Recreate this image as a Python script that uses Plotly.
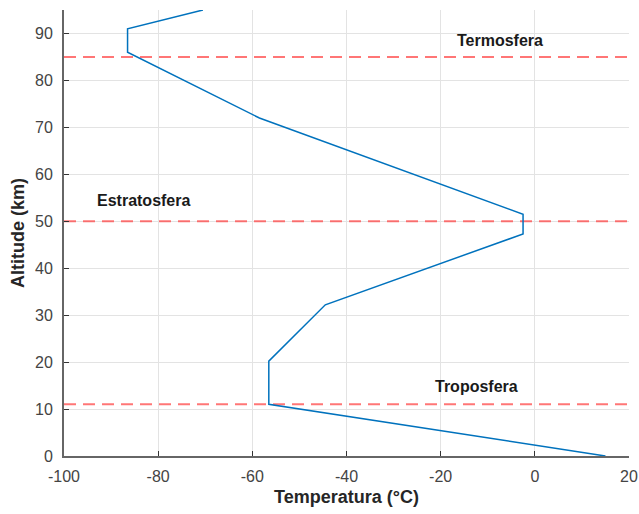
import plotly.graph_objects as go

temperature = [15, -56.5, -56.5, -44.5, -2.5, -2.5, -58.5, -86.5, -86.5, -70.5]
altitude = [0, 11, 20.2, 32.2, 47.3, 51.5, 72, 86, 91, 95]

boundaries = [11, 50, 85]
layer_names = ["Troposfera", "Estratosfera", "Termosfera"]
label_x = [-12.3, -83.2, -7.4]
label_y = [14.9, 54.5, 88.4]

x_ticks = [-100, -80, -60, -40, -20, 0, 20]
x_tick_labels = ["-100", "-80", "-60", "-40", "-20", "0", "20"]
y_ticks = [0, 10, 20, 30, 40, 50, 60, 70, 80, 90]
y_tick_labels = [str(v) for v in y_ticks]

FONT = "Liberation Sans, Arial"

fig = go.Figure()

for b in boundaries:
    fig.add_trace(go.Scatter(
        x=[-100, 20], y=[b, b], mode="lines",
        line=dict(color="rgba(255,60,60,0.7)", width=2, dash="12px,7px"),
        showlegend=False, hoverinfo="skip"))

fig.add_trace(go.Scatter(
    x=temperature, y=altitude, mode="lines",
    line=dict(color="#0072BD", width=1.5),
    showlegend=False))

for name, lx, ly in zip(layer_names, label_x, label_y):
    fig.add_annotation(x=lx, y=ly, xref="x", yref="y", text="<b>" + name + "</b>",
                       showarrow=False, font=dict(family=FONT, size=16, color="#1a1a1a"))

axis_common = dict(
    showgrid=True, gridcolor="#e3e3e3", gridwidth=1,
    showline=True, linecolor="#666666", linewidth=2,
    ticks="inside", ticklen=5, tickcolor="#333333",
    tickfont=dict(family=FONT, size=16, color="#444444"),
    zeroline=False, mirror=False, automargin=False,
)

fig.update_xaxes(range=[-100, 20], tickvals=x_ticks, ticktext=x_tick_labels,
                 ticklabelstandoff=5,
                 title=dict(text="<b>Temperatura (°C)</b>", font=dict(family=FONT, size=18, color="#262626"), standoff=6),
                 **axis_common)
fig.update_yaxes(range=[0, 95], tickvals=y_ticks, ticktext=y_tick_labels,
                 ticklabelstandoff=6,
                 title=dict(text="<b>Altitude (km)</b>", font=dict(family=FONT, size=18, color="#262626"), standoff=6),
                 **axis_common)

fig.update_layout(
    width=639, height=514,
    margin=dict(l=64, r=10, t=10, b=58),
    plot_bgcolor="white", paper_bgcolor="white",
)

fig.write_html("out.html")
